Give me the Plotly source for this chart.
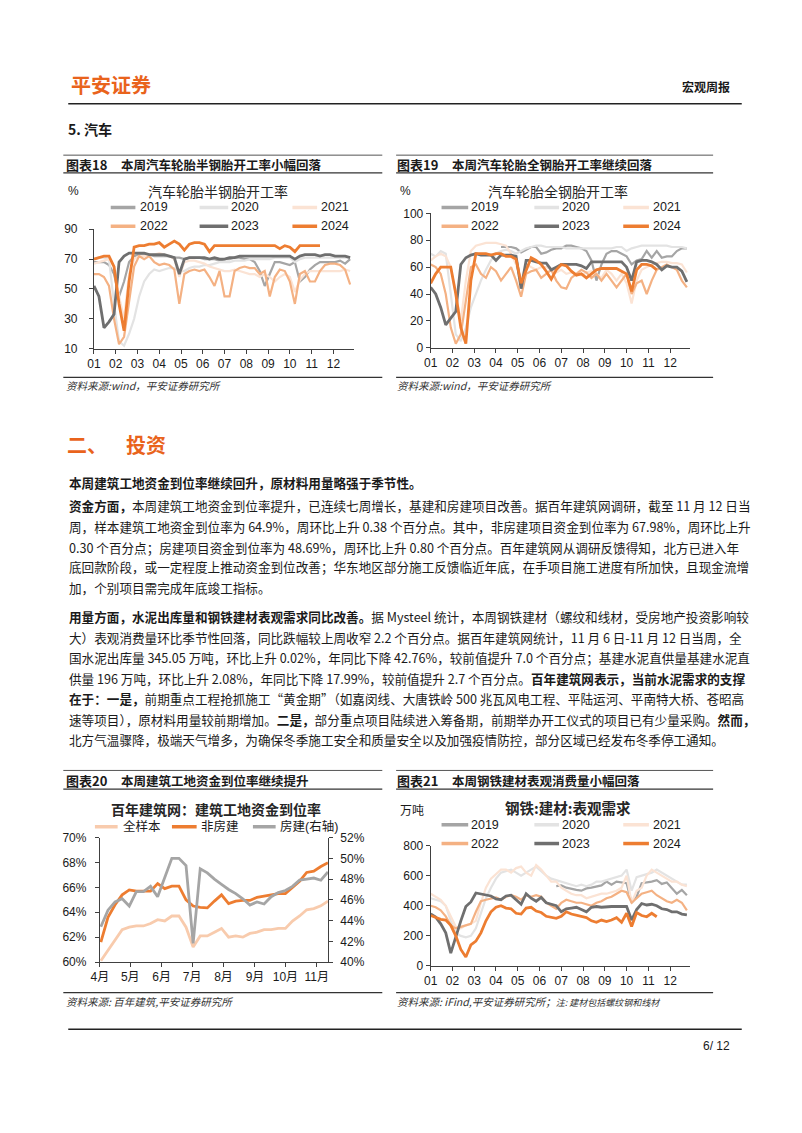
import plotly.graph_objects as go

W, H = 802, 1133
def X(px): return px / W
def Y(py): return 1 - py / H

FONT_CN = "Noto Sans CJK SC"
FONT_NUM = "Liberation Sans, Arial, Noto Sans CJK SC"
ORANGE_BRAND = "#E9631C"

# ---------------- data ----------------
years = ["2019", "2020", "2021", "2022", "2023", "2024"]
year_colors = ["#A5A5A5", "#E3E3E3", "#FBE3D4", "#F4B183", "#6F6F6F", "#ED7D31"]
year_widths = [2.2, 2.2, 2.2, 2.2, 2.8, 2.8]
month_labels = ["01", "02", "03", "04", "05", "06", "07", "08", "09", "10", "11", "12"]

# 图表18 半钢胎开工率 (%), weekly
semi_2019 = [68,68,68,66,60,45,55,68,72,73,73,73,72,72,72,72,71,71,70,71,71,71,70,70,70,69,70,70,71,71,70,70,68,62,52,60,68,68,67,66,68,55,58,63,66,68,68,68,68,69,67,70]
semi_2020 = [70,71,71,70,40,15,12,20,30,45,55,60,63,62,63,64,64,62,62,64,65,65,66,66,67,68,68,68,69,69,69,70,70,70,70,70,71,71,71,71,68,70,71,71,71,71,71,71,71,71,71,71]
semi_2021 = [67,68,69,70,65,45,30,60,70,72,72,73,73,74,73,72,70,58,68,69,69,68,67,65,64,63,62,62,63,62,61,60,60,58,60,58,55,58,60,58,48,56,60,62,62,62,62,62,62,62,63,62]
semi_2022 = [60,60,58,52,30,13,18,40,65,72,70,72,68,66,67,66,63,40,60,62,63,62,63,58,52,62,45,45,62,64,65,64,64,60,62,45,58,63,62,55,40,60,62,55,55,62,66,67,67,66,63,53]
semi_2023 = [52,45,24,28,33,68,72,74,74,74,74,73,73,73,73,72,71,60,70,71,71,71,71,70,71,70,70,71,71,72,72,72,72,72,72,72,72,72,72,72,70,72,73,73,73,72,73,73,72,72,72,71]
semi_2024 = [70,71,72,72,65,40,22,55,78,79,79,80,80,81,78,80,82,80,76,80,81,81,80,75,79,79,79,79,79,79,79,79,79,79,78.5,78.5,79,77,79,78,75,79,79,79,79,79] + [None]*6

# 图表19 全钢胎开工率 (%), weekly
full_2019 = [None]*14 + [75,75,75,74,71,73,75,75,70,71,73,74,74,76,76,75,74,72,65,50,62,70,72,72,70,68,62,65,66,72,67,72,67,68,68,72,74,74]
full_2020 = [70,68,72,70,40,10,5,15,30,40,50,58,65,70,72,73,72,70,72,74,75,76,76,75,75,75,75,74,74,74,74,74,74,74,74,74,74,75,75,72,74,75,76,76,76,76,76,76,75,75,75,74]
full_2021 = [65,68,70,68,60,40,20,50,72,76,77,78,78,78,77,76,70,62,50,62,60,58,60,60,58,56,58,55,56,55,54,56,57,55,52,58,55,50,55,48,33,50,58,60,62,63,64,64,63,63,62,56]
full_2022 = [62,60,55,40,15,3,10,35,60,62,55,52,60,57,50,55,60,50,38,55,57,58,52,55,58,50,45,44,52,55,58,56,52,55,50,55,50,45,50,55,40,48,50,40,50,58,60,62,60,58,50,45]
full_2023 = [45,40,30,17,22,27,62,67,69,70,69,69,69,65,69,69,69,68,44,65,65,64,63,63,58,60,62,62,62,62,61,59,64,64,64,64,64,64,64,60,50,64,65,65,64,62,58,61,60,60,57,49]
full_2024 = [48,55,60,60,60,40,15,3,50,70,70,70,69,70,70,68,68,66,48,58,67,65,62,57,51,58,62,61,57,54,55,52,55,58,59,59,59,59,57,55,42,58,62,62,61,58] + [None]*6

# 图表20 百年建筑网: 建筑工地资金到位率 (%)
bn_dates = ["2024-04-02","2024-04-09","2024-04-16","2024-04-23","2024-04-30","2024-05-07","2024-05-14",
            "2024-05-21","2024-05-28","2024-06-04","2024-06-11","2024-06-18","2024-06-25","2024-07-02",
            "2024-07-09","2024-07-16","2024-07-23","2024-07-30","2024-08-06","2024-08-13","2024-08-20",
            "2024-08-27","2024-09-03","2024-09-10","2024-09-17","2024-09-24","2024-10-01","2024-10-08",
            "2024-10-15","2024-10-22","2024-10-29","2024-11-05","2024-11-12"]
full_sample = [60.1,60.9,61.7,62.6,62.8,62.9,62.9,63.1,63.4,63.3,63.7,63.7,62.8,61.2,62.1,62.1,62.4,62.7,62.0,62.1,62.0,62.3,62.4,62.6,62.6,62.7,62.7,63.3,63.7,64.2,64.3,64.52,64.9]
non_housing = [61.6,63.6,64.6,65.4,65.8,65.7,65.7,65.7,66.3,65.9,66.1,66.1,65.0,64.5,64.4,64.35,64.9,65.4,64.7,64.9,64.95,64.95,65.2,65.3,65.4,65.5,65.5,66.0,66.5,67.2,67.3,67.68,67.98]
housing = [43.4,45.0,45.8,46.1,45.4,46.8,46.8,47.3,46.3,48.1,50.0,50.0,49.3,41.8,49.0,48.6,48.0,47.5,47.0,46.6,46.1,45.5,45.8,45.6,46.3,46.7,46.9,47.3,47.9,48.0,48.1,47.89,48.69]
bn_names = ["全样本", "非房建", "房建(右轴)"]
bn_colors = ["#F8CBAD", "#ED7D31", "#A5A5A5"]
bn_month_dates = ["2024-04-01","2024-05-01","2024-06-01","2024-07-01","2024-08-01","2024-09-01","2024-10-01","2024-11-01"]
bn_month_labels = ["4月", "5月", "6月", "7月", "8月", "9月", "10月", "11月"]

# 图表21 钢铁:建材:表观需求 (万吨), weekly
steel_2019 = [None]*25 + [530,535,520,510,505,500,515,520,530,535,560,540,560,555,550,420,460,550,555,560,570,545,555,520,480,505,470]
steel_2020 = [450,440,430,400,300,220,200,190,200,250,350,450,520,580,620,630,640,620,600,620,640,660,630,600,580,570,560,550,540,530,540,530,540,560,560,570,580,590,600,640,500,590,600,610,620,640,620,600,580,560,540,540]
steel_2021 = [480,460,440,400,330,260,250,270,280,300,420,520,580,610,640,640,620,650,660,620,600,670,640,600,560,560,520,500,480,470,470,450,460,470,480,480,490,500,520,600,420,500,520,600,640,620,600,580,560,560,540,530]
steel_2022 = [400,390,370,330,270,250,260,270,280,360,430,440,450,455,440,460,470,460,440,470,460,470,460,420,400,380,420,440,430,420,420,410,400,420,430,450,460,480,500,490,420,450,480,490,500,470,450,430,420,440,420,370]
steel_2023 = [345,325,280,220,85,200,300,395,425,485,478,470,465,445,440,465,470,440,410,480,450,430,455,420,410,400,360,380,385,390,375,360,390,395,390,395,395,395,395,395,305,375,415,405,410,400,380,375,360,360,345,340]
steel_2024 = [335,320,310,305,270,200,110,60,140,165,220,300,360,390,400,385,380,350,345,385,390,365,355,330,325,316,330,360,345,338,330,321,300,290,305,295,305,321,290,350,262,355,335,327,350,327] + [None]*6

semi_series = [semi_2019, semi_2020, semi_2021, semi_2022, semi_2023, semi_2024]
full_series = [full_2019, full_2020, full_2021, full_2022, full_2023, full_2024]
steel_series = [steel_2019, steel_2020, steel_2021, steel_2022, steel_2023, steel_2024]

# ---------------- figure ----------------
fig = go.Figure()

def add_year_traces(series_list, xa, ya):
    for name, vals, col, wd in zip(years, series_list, year_colors, year_widths):
        fig.add_trace(go.Scatter(x=list(range(len(vals))), y=vals, mode="lines", name=name,
                                 line=dict(color=col, width=wd), connectgaps=False,
                                 xaxis=xa, yaxis=ya, showlegend=False, hoverinfo="skip"))

add_year_traces(semi_series, "x", "y")
add_year_traces(full_series, "x2", "y2")
add_year_traces(steel_series, "x4", "y5")

fig.add_trace(go.Scatter(x=bn_dates, y=housing, mode="lines", name=bn_names[2],
                         line=dict(color=bn_colors[2], width=2.8), xaxis="x3", yaxis="y4",
                         showlegend=False, hoverinfo="skip"))
fig.add_trace(go.Scatter(x=bn_dates, y=full_sample, mode="lines", name=bn_names[0],
                         line=dict(color=bn_colors[0], width=2.8), xaxis="x3", yaxis="y3",
                         showlegend=False, hoverinfo="skip"))
fig.add_trace(go.Scatter(x=bn_dates, y=non_housing, mode="lines", name=bn_names[1],
                         line=dict(color=bn_colors[1], width=2.8), xaxis="x3", yaxis="y3",
                         showlegend=False, hoverinfo="skip"))

axis_common = dict(showline=True, linecolor="#404040", linewidth=1, ticks="outside", ticklen=4,
                   tickcolor="#404040", showgrid=False, zeroline=False, fixedrange=True,
                   tickfont=dict(family=FONT_NUM, size=12, color="#1a1a1a"))
month_pos = [m * 52 / 12 for m in range(12)]

# plot-area pixel boxes (top, bottom)
C18 = (225, 346); C19 = (209, 345); C20 = (841, 967); C21 = (849, 971)

layout_axes = dict(
    xaxis=dict(axis_common, domain=[X(86), X(349)], range=[0, 51.7], tickmode="array",
               tickvals=month_pos, ticktext=month_labels, anchor="y"),
    yaxis=dict(axis_common, domain=[Y(C18[1]), Y(C18[0])], range=[10, 90], tickmode="array",
               tickvals=[10, 30, 50, 70, 90], anchor="x", ticklabelstandoff=9),
    xaxis2=dict(axis_common, domain=[X(427), X(690)], range=[0, 51.7], tickmode="array",
                tickvals=month_pos, ticktext=month_labels, anchor="y2"),
    yaxis2=dict(axis_common, domain=[Y(C19[1]), Y(C19[0])], range=[0, 100], dtick=20, anchor="x2"),
    xaxis3=dict(axis_common, type="date", domain=[X(92), X(323)], range=["2024-04-01", "2024-11-12"],
                tickmode="array", tickvals=bn_month_dates, ticktext=bn_month_labels, anchor="y3"),
    yaxis3=dict(axis_common, domain=[Y(C20[1]), Y(C20[0])], range=[60, 70], dtick=2, ticksuffix="%",
                anchor="x3", ticklabelstandoff=6),
    yaxis4=dict(axis_common, domain=[Y(C20[1]), Y(C20[0])], range=[40, 52], dtick=2, ticksuffix="%",
                anchor="x3", overlaying="y3", side="right", ticklabelstandoff=5),
    xaxis4=dict(axis_common, domain=[X(427), X(690)], range=[0, 51.7], tickmode="array",
                tickvals=month_pos, ticktext=month_labels, anchor="y5"),
    yaxis5=dict(axis_common, domain=[Y(C21[1]), Y(C21[0])], range=[0, 800], dtick=200, anchor="x4"),
)

shapes = []
annotations = []

def hline(x0, x1, y, color="#333333", width=1.0):
    shapes.append(dict(type="line", xref="paper", yref="paper", x0=X(x0), x1=X(x1), y0=Y(y), y1=Y(y),
                       line=dict(color=color, width=width)))

def text(px, py, s, size=12.5, color="#1a1a1a", anchor="left", family=FONT_CN):
    annotations.append(dict(x=X(px), y=Y(py), xref="paper", yref="paper", text=s, showarrow=False,
                            xanchor=anchor, yanchor="middle", align=anchor,
                            borderpad=0, font=dict(family=family, size=size, color=color)))

def legend_item(x0, x1, xt, y, color, label):
    shapes.append(dict(type="line", xref="paper", yref="paper", x0=X(x0), x1=X(x1), y0=Y(y), y1=Y(y),
                       line=dict(color=color, width=3.5)))
    text(xt, y, label, size=12.5, family=FONT_NUM, color="#1a1a1a")

# header
text(62, 78, "<b>平安证券</b>", size=20, color=ORANGE_BRAND)
text(731, 81, "<b>宏观周报</b>", size=12, anchor="right")
hline(60, 742, 98, color="#222222", width=1.5)
text(59, 124, "<b>5. 汽车</b>", size=14)

# chart boxes
for (x0, x1, top, mid, bot) in [(55, 378, 150, 168, 375), (392, 713, 150, 168, 375),
                                (55, 378, 773, 792, 998), (392, 713, 773, 792, 998)]:
    hline(x0, x1, top, color="#555555", width=1.0)
    hline(x0, x1, mid, color="#333333", width=1.2)
    hline(x0, x1, bot, color="#333333", width=1.2)

text(57, 159, "<b>图表18</b>", size=13)
text(112, 159, "<b>本周汽车轮胎半钢胎开工率小幅回落</b>", size=12.5)
text(392, 159, "<b>图表19</b>", size=13)
text(448, 159, "<b>本周汽车轮胎全钢胎开工率继续回落</b>", size=12.5)
text(57, 783, "<b>图表20</b>", size=13)
text(112, 783, "<b>本周建筑工地资金到位率继续提升</b>", size=12.5)
text(392, 783, "<b>图表21</b>", size=13)
text(448, 783, "<b>本周钢铁建材表观消费量小幅回落</b>", size=12.5)

# chart inner titles / units
text(212, 186, "汽车轮胎半钢胎开工率", size=14, anchor="center", color="#262626")
text(65, 186, "%", size=12, anchor="center", family=FONT_NUM)
text(556, 186, "汽车轮胎全钢胎开工率", size=14, anchor="center", color="#262626")
text(401, 186, "%", size=12, anchor="center", family=FONT_NUM)
text(210, 812, "<b>百年建筑网：建筑工地资金到位率</b>", size=14, anchor="center", color="#262626")
text(566, 811, "<b>钢铁:建材:表观需求</b>", size=14.5, anchor="center", color="#262626")
text(408, 813, "万吨", size=12, anchor="center")

# legends
cols_l = [(103, 128, 132), (193, 222, 224), (287, 312, 315)]
cols_r = [(438, 465, 467), (532, 557, 559), (622, 648, 651)]
for i, (name, col) in enumerate(zip(years, year_colors)):
    r, c = divmod(i, 3)
    a, b, t = cols_l[c]
    legend_item(a, b, t, 203 + 19 * r, col, name)
    a, b, t = cols_r[c]
    legend_item(a, b, t, 203 + 19 * r, col, name)
    legend_item(a, b, t, 828 + 19 * r, col, name)
bn_leg = [(87, 110, 114), (165, 190, 193), (247, 270, 273)]
for (a, b, t), name, col in zip(bn_leg, bn_names, bn_colors):
    legend_item(a, b, t, 830, col, name)

# sources
text(57, 383, "<i>资料来源:wind，平安证券研究所</i>", size=10.5, color="#333333")
text(392, 383, "<i>资料来源:wind，平安证券研究所</i>", size=10.5, color="#333333")
text(57, 1007, "<i>资料来源: 百年建筑,平安证券研究所</i>", size=10.5, color="#333333")
text(392, 1007, "<i>资料来源: iFind,平安证券研究所；<span style='font-size:9px'>注: 建材包括螺纹钢和线材</span></i>",
     size=10.5, color="#333333")

# section text
text(58, 443, "<b>二、</b>", size=20, color=ORANGE_BRAND)
text(117, 443, "<b>投资</b>", size=20, color=ORANGE_BRAND)

body_lines = [
    (481, "<b>本周建筑工地资金到位率继续回升，原材料用量略强于季节性。</b>"),
    (505, "<b>资金方面，</b>本周建筑工地资金到位率提升，已连续七周增长，基建和房建项目改善。据百年建筑网调研，截至 11 月 12 日当"),
    (526, "周，样本建筑工地资金到位率为 64.9%，周环比上升 0.38 个百分点。其中，非房建项目资金到位率为 67.98%，周环比上升"),
    (547, "0.30 个百分点；房建项目资金到位率为 48.69%，周环比上升 0.80 个百分点。百年建筑网从调研反馈得知，北方已进入年"),
    (567, "底回款阶段，或一定程度上推动资金到位改善；华东地区部分施工反馈临近年底，在手项目施工进度有所加快，且现金流增"),
    (588, "加，个别项目需完成年底竣工指标。"),
    (617, "<b>用量方面，水泥出库量和钢铁建材表观需求同比改善。</b>据 Mysteel 统计，本周钢铁建材（螺纹和线材，受房地产投资影响较"),
    (638, "大）表观消费量环比季节性回落，同比跌幅较上周收窄 2.2 个百分点。据百年建筑网统计，11 月 6 日-11 月 12 日当周，全"),
    (659, "国水泥出库量 345.05 万吨，环比上升 0.02%，年同比下降 42.76%，较前值提升 7.0 个百分点；基建水泥直供量基建水泥直"),
    (680, "供量 196 万吨，环比上升 2.08%，年同比下降 17.99%，较前值提升 2.7 个百分点。<b>百年建筑网表示，当前水泥需求的支撑</b>"),
    (700, "<b>在于：一是，</b>前期重点工程抢抓施工“黄金期”（如嘉闵线、大唐铁岭 500 兆瓦风电工程、平陆运河、平南特大桥、苍昭高"),
    (721, "速等项目），原材料用量较前期增加。<b>二是，</b>部分重点项目陆续进入筹备期，前期举办开工仪式的项目已有少量采购。<b>然而，</b>"),
    (742, "北方气温骤降，极端天气增多，为确保冬季施工安全和质量安全以及加强疫情防控，部分区域已经发布冬季停工通知。"),
]
for py, s in body_lines:
    text(60, py, s, size=12.6)

# footer
hline(60, 742, 1035, color="#222222", width=1.5)
text(731, 1052, "6/ 12", size=12, anchor="right", family=FONT_NUM)

fig.update_layout(
    width=W, height=H, margin=dict(l=0, r=0, t=0, b=0), autosize=False,
    paper_bgcolor="white", plot_bgcolor="white", showlegend=False,
    font=dict(family=FONT_CN, color="#1a1a1a"),
    shapes=shapes, annotations=annotations, **layout_axes,
)

fig.write_html("out.html", config={"displayModeBar": False, "staticPlot": True},
               post_script="document.body.style.margin='0px';")
